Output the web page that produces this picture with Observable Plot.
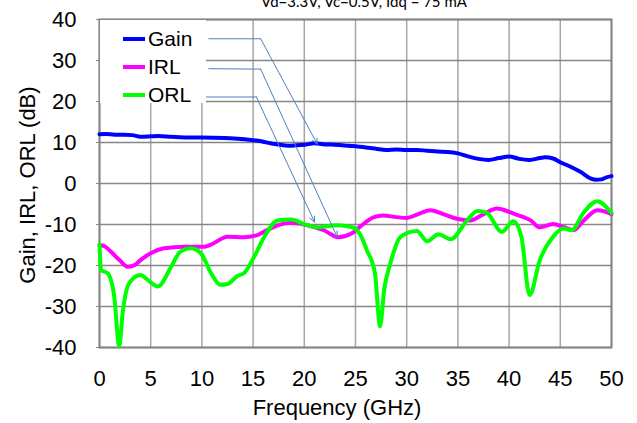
<!DOCTYPE html>
<html>
<head>
<meta charset="utf-8">
<script src="https://cdn.jsdelivr.net/npm/d3@7"></script>
<script src="https://cdn.jsdelivr.net/npm/@observablehq/plot@0.6"></script>
<style>
  html, body { margin: 0; padding: 0; background: #fff; overflow: hidden; }
  #wrap { position: relative; width: 637px; height: 423px; font-family: "Liberation Sans", Arial, sans-serif; }
  #title { position: absolute; left: 0; width: 728px; top: -8px; text-align: center; font-family: Lato, "Open Sans", sans-serif; font-size: 15px; color: #000; white-space: nowrap; }
  .axtitle { position: absolute; font-size: 22px; color: #000; white-space: nowrap; }
  #ytitle { left: 28px; top: 185px; transform: translate(-50%, -50%) rotate(-90deg); }
  #xtitle { left: 337px; top: 408px; transform: translate(-50%, -50%); }
  #legend { position: absolute; left: 100px; top: 20px; width: 106px; height: 83px; background: #fff; }
  .li { position: absolute; left: 23px; height: 20px; display: flex; align-items: center; font-size: 21px; }
  .li span.sw { display: inline-block; width: 22px; height: 4px; margin-right: 3px; }
</style>
</head>
<body>
<div id="wrap">
  <div id="chart"></div>
  <div id="title"></div>
  <div id="ytitle" class="axtitle"></div>
  <div id="xtitle" class="axtitle"></div>
  <div id="legend"></div>
</div>
<script>
const titleText = "Vd=3.3V, Vc=0.5V, Idq = 75 mA";
const xLabel = "Frequency (GHz)";
const yLabel = "Gain, IRL, ORL (dB)";
const seriesNames = ["Gain", "IRL", "ORL"];
const seriesColors = ["#0000ff", "#ff00ff", "#00ff00"];
const xTicks = [0, 5, 10, 15, 20, 25, 30, 35, 40, 45, 50];
const yTicks = [-40, -30, -20, -10, 0, 10, 20, 30, 40];

const gainF = [0, 0.6, 1.5, 2.4, 3.2, 4, 5, 5.7, 7, 8.9, 10, 12.2, 13.5, 14.8, 15.8, 16.7, 17.5, 18.4, 19.2, 20, 21, 21.8, 22.6, 23.5, 24.3, 25.2, 26, 27, 28, 29, 30, 31, 32, 33, 34, 35, 36, 37, 38, 39, 40, 41, 42, 43, 43.5, 44.3, 45, 46, 47, 48, 48.5, 49, 49.5, 50];
const gainV = [12.0, 12.1, 11.9, 11.9, 11.8, 11.4, 11.5, 11.6, 11.4, 11.2, 11.2, 11.1, 10.9, 10.6, 10.3, 9.8, 9.5, 9.2, 9.3, 9.45, 9.8, 9.6, 9.5, 9.4, 9.2, 9.05, 8.8, 8.5, 8.2, 8.3, 8.2, 8.2, 8.0, 7.8, 7.7, 7.35, 6.6, 6.0, 5.75, 6.2, 6.6, 6.0, 5.75, 6.2, 6.4, 6.1, 5.2, 4.1, 2.8, 1.2, 0.9, 1.0, 1.5, 1.8];

const irlF = [0, 0.5, 1.1, 2, 2.75, 3.5, 4, 5, 6.3, 8.3, 10.2, 10.8, 12.5, 14.1, 15.4, 16.4, 17.4, 18.7, 20.3, 21.9, 23.3, 24.6, 25.5, 26.8, 27.7, 29, 30, 31, 32.3, 33.5, 34.9, 36.2, 37.5, 38.8, 40.4, 41.2, 42.1, 43, 44.3, 45.3, 46.3, 47.3, 48.6, 49.3, 50];
const irlV = [-15.0, -15.3, -16.6, -18.8, -20.3, -19.8, -18.7, -17.0, -15.8, -15.4, -15.4, -15.0, -13.0, -13.1, -12.6, -11.3, -10.2, -9.6, -10.2, -11.4, -13.1, -12.2, -10.4, -8.2, -7.8, -8.2, -8.4, -7.6, -6.5, -7.4, -8.6, -9.0, -7.5, -6.1, -7.3, -8.0, -9.0, -10.7, -9.9, -10.6, -11.4, -9.0, -6.5, -6.8, -7.5];

const orlF = [0, 0.15, 0.8, 1.44, 1.93, 2.26, 2.9, 4.0, 4.7, 5.7, 7.0, 7.9, 8.9, 9.9, 10.9, 11.8, 12.5, 13.5, 14.1, 15.1, 16.1, 17.4, 18.7, 20, 21.3, 23.2, 24.6, 25.5, 26.1, 26.9, 27.4, 27.8, 28.4, 29.4, 31.0, 32.0, 33.1, 34.3, 35.9, 36.9, 37.8, 39.3, 40.4, 41.2, 42.0, 43.0, 44.3, 45.3, 46.1, 47.3, 48.6, 50];
const orlV = [-14.8, -21.1, -21.9, -27.6, -39.7, -31.6, -24.3, -22.3, -23.5, -25.1, -20.3, -16.6, -15.8, -17.0, -21.9, -24.7, -24.5, -22.5, -21.9, -17.9, -13.0, -9.0, -8.8, -9.9, -10.7, -10.2, -10.6, -12.6, -16.2, -21.9, -34.8, -25.9, -19.5, -13.0, -11.6, -14.1, -12.4, -13.6, -9.0, -6.7, -7.1, -11.8, -9.2, -13.0, -27.2, -18.7, -13.0, -11.0, -11.4, -7.0, -4.3, -7.2];

// leader annotations (data units): start, elbow, arrow tip
const leaderStartF = [10.67, 10.67, 10.37];
const leaderStartV = [35.3, 28.0, 21.1];
const leaderElbowF = [15.74, 15.74, 15.32];
const leaderElbowV = [35.3, 27.9, 21.1];
const leaderTipF = [21.27, 23.2, 21.0];
const leaderTipV = [9.6, -13.0, -9.4];

const toRows = (name, F, V) => F.map((f, i) => ({series: name, f, v: V[i]}));
const rows = [
  ...toRows("Gain", gainF, gainV),
  ...toRows("IRL", irlF, irlV),
  ...toRows("ORL", orlF, orlV)
];
const leaderLines = seriesNames.flatMap((s, i) => [
  {s, f: leaderStartF[i], v: leaderStartV[i]},
  {s, f: leaderElbowF[i], v: leaderElbowV[i]}
]);
const leaderArrows = seriesNames.map((s, i) => ({
  s, f1: leaderElbowF[i], v1: leaderElbowV[i], f2: leaderTipF[i], v2: leaderTipV[i]
}));

const leaderColor = "#4f81bd";
const plain = d => String(d);

const chart = Plot.plot({
  width: 637,
  height: 423,
  marginLeft: 99,
  marginRight: 26,
  marginTop: 19,
  marginBottom: 76,
  style: {fontFamily: "'Liberation Sans', Arial, sans-serif", fontSize: "22px", color: "#000", background: "#fff"},
  x: {domain: [0, 50], ticks: xTicks},
  y: {domain: [-40, 40], ticks: yTicks},
  color: {domain: seriesNames, range: seriesColors},
  marks: [
    Plot.ruleX(xTicks, {stroke: "#a6a6a6", strokeWidth: 1.5}),
    Plot.ruleY(yTicks, {stroke: "#868686", strokeWidth: 1.5}),
    Plot.frame({stroke: "#868686", strokeWidth: 2}),
    Plot.axisX({ticks: xTicks, tickSize: 0, tickPadding: 23, label: null, fontSize: 22, tickFormat: plain}),
    Plot.axisY({ticks: yTicks, tickSize: 3, tickPadding: 20, label: null, fontSize: 22, stroke: "#868686", tickFormat: plain}),
    Plot.line(rows, {x: "f", y: "v", z: "series", stroke: "series", strokeWidth: 4, curve: "monotone-x"}),
    Plot.line(leaderLines, {x: "f", y: "v", z: "s", stroke: leaderColor, strokeWidth: 1}),
    Plot.arrow(leaderArrows, {x1: "f1", y1: "v1", x2: "f2", y2: "v2", stroke: leaderColor, strokeWidth: 1, headLength: 9, headAngle: 50})
  ]
});
document.getElementById("chart").appendChild(chart);

document.getElementById("title").textContent = titleText;
document.getElementById("xtitle").textContent = xLabel;
document.getElementById("ytitle").textContent = yLabel;

const legend = document.getElementById("legend");
const legendTops = [9, 37, 65];
seriesNames.forEach((name, i) => {
  const item = document.createElement("div");
  item.className = "li";
  item.style.top = legendTops[i] + "px";
  const sw = document.createElement("span");
  sw.className = "sw";
  sw.style.background = seriesColors[i];
  item.appendChild(sw);
  item.appendChild(document.createTextNode(name));
  legend.appendChild(item);
});
</script>
</body>
</html>
